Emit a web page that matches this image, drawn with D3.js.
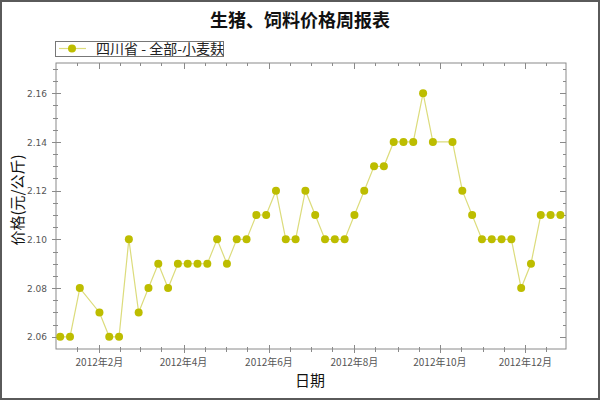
<!DOCTYPE html>
<html><head><meta charset="utf-8">
<script src="https://cdn.jsdelivr.net/npm/d3@7"></script>
<style>body{margin:0;background:#fff}svg{display:block}</style>
</head><body>
<svg id="c" width="600" height="400"></svg>
<script>
const title = "生猪、饲料价格周报表";
const seriesName = "四川省 - 全部-小麦麸";
const xTitle = "日期";
const yTitle = "价格(元/公斤)";
const dates = ["2012-01-04","2012-01-11","2012-01-18","2012-02-01","2012-02-08","2012-02-15","2012-02-22","2012-02-29",
"2012-03-07","2012-03-14","2012-03-21","2012-03-28","2012-04-04","2012-04-11","2012-04-18","2012-04-25",
"2012-05-02","2012-05-09","2012-05-16","2012-05-23","2012-05-30","2012-06-06","2012-06-13","2012-06-20","2012-06-27",
"2012-07-04","2012-07-11","2012-07-18","2012-07-25","2012-08-01","2012-08-08","2012-08-15","2012-08-22","2012-08-29",
"2012-09-05","2012-09-12","2012-09-19","2012-09-26","2012-10-10","2012-10-17","2012-10-24","2012-10-31",
"2012-11-07","2012-11-14","2012-11-21","2012-11-28","2012-12-05","2012-12-12","2012-12-19","2012-12-26"];
const values = [2.06,2.06,2.08,2.07,2.06,2.06,2.10,2.07,
2.08,2.09,2.08,2.09,2.09,2.09,2.09,2.10,
2.09,2.10,2.10,2.11,2.11,2.12,2.10,2.10,2.12,
2.11,2.10,2.10,2.10,2.11,2.12,2.13,2.13,2.14,
2.14,2.14,2.16,2.14,2.14,2.12,2.11,2.10,
2.10,2.10,2.10,2.08,2.09,2.11,2.11,2.11];
const yTicks = [2.06,2.08,2.10,2.12,2.14,2.16];
const xLabelMonths = ["2012-02-01","2012-04-01","2012-06-01","2012-08-01","2012-10-01","2012-12-01"];

const parse = d3.timeParse("%Y-%m-%d");
const data = dates.map((d,i)=>({date:parse(d), v:values[i]}));
const svg = d3.select("#c");
const L=56,R=566,T=63,B=349;
const x = d3.scaleTime().domain([new Date(2012,0,1), new Date(2012,11,30)]).range([L,R]);
const y = d3.scaleLinear().domain([2.055,2.1724]).range([B,T]);
const axisColor="#8a8a8a", labelColor="#555";
const fmtX = d=> d.getFullYear()+"年"+(d.getMonth()+1)+"月";

// border
svg.append("rect").attr("x",1).attr("y",1).attr("width",598).attr("height",398)
  .attr("fill","#fff").attr("stroke","#5a5a5a").attr("stroke-width",2);

// minor ticks: 1st and 16th of each month
const minorX = [];
d3.timeMonth.range(new Date(2012,0,1), new Date(2013,0,1)).forEach(m=>{
  minorX.push(m); minorX.push(new Date(m.getFullYear(), m.getMonth(), 16));
});
const majorX = xLabelMonths.map(parse);
const isMajor = d => majorX.some(m=>+m===+d);
const minorY = d3.range(0,24).map(i=>+(2.055+i*0.005).toFixed(3)).filter(v=>v<=2.1724);
const isMajorY = v => yTicks.some(t=>Math.abs(t-v)<1e-6);

const g = svg.append("g");
// frame
g.append("rect").attr("x",L).attr("y",T).attr("width",R-L).attr("height",B-T)
  .attr("fill","none").attr("stroke",axisColor).attr("stroke-width",1);

// bottom axis
const bottom = d3.axisBottom(x).tickValues(minorX.filter(d=>x(d)>=L&&x(d)<=R)).tickSize(0).tickFormat("");
g.append("g").attr("transform",`translate(0,${B})`).call(bottom).call(s=>s.select(".domain").remove());
minorX.filter(d=>x(d)>L+1&&x(d)<=R).forEach(d=>{
  const px=Math.round(x(d))+0.5, mj=isMajor(d);
  g.append("line").attr("x1",px).attr("x2",px).attr("y1",B-(mj?4:2)).attr("y2",B+(mj?4:3)).attr("stroke",axisColor);
  g.append("line").attr("x1",px).attr("x2",px).attr("y1",T).attr("y2",T+(mj?6:3)).attr("stroke",axisColor);
});
g.selectAll(".xl").data(majorX).enter().append("text")
  .attr("x",d=>x(d)).attr("y",366).attr("text-anchor","middle")
  .attr("font-family","'Noto Sans CJK SC', sans-serif").attr("font-size",10).attr("fill",labelColor)
  .text(fmtX);

// left/right ticks
minorY.forEach(v=>{
  const py=Math.round(y(v))+0.5, mj=isMajorY(v);
  if (py<T+1 || py>B-1) return;
  g.append("line").attr("x1",L-(mj?4:3)).attr("x2",L+(mj?5:2)).attr("y1",py).attr("y2",py).attr("stroke",axisColor);
  g.append("line").attr("x1",R-(mj?6:3)).attr("x2",R).attr("y1",py).attr("y2",py).attr("stroke",axisColor);
});
const left = d3.axisLeft(y).tickValues(yTicks).tickSize(0).tickPadding(0).tickFormat(d3.format(".2f"));
const la = g.append("g").attr("transform",`translate(47,0)`).call(left);
la.select(".domain").remove();
la.selectAll("text").attr("font-family","'DejaVu Sans', sans-serif").attr("font-size",9).attr("fill",labelColor).attr("dy","0.35em");

// line + points
const line = d3.line().x(d=>x(d.date)).y(d=>y(d.v));
g.append("path").datum(data).attr("d",line).attr("fill","none").attr("stroke","#dcdc7c").attr("stroke-width",1.2);
g.selectAll(".pt").data(data).enter().append("circle")
  .attr("cx",d=>x(d.date)).attr("cy",d=>y(d.v)).attr("r",4).attr("fill","#bdbd00");

// titles
svg.append("text").attr("x",300).attr("y",27).attr("text-anchor","middle")
  .attr("font-family","'Noto Sans CJK SC', sans-serif").attr("font-weight","bold").attr("font-size",18).attr("fill","#111").text(title);
svg.append("text").attr("x",310).attr("y",386).attr("text-anchor","middle")
  .attr("font-family","'Noto Sans CJK SC', sans-serif").attr("font-size",15).attr("fill","#111").text(xTitle);
svg.append("text").attr("transform","translate(23,200) rotate(-90)").attr("text-anchor","middle")
  .attr("font-family","'Noto Sans CJK SC', sans-serif").attr("font-size",15).attr("fill","#111").text(yTitle);

// legend
const lg = svg.append("g");
lg.append("rect").attr("x",55.5).attr("y",41.5).attr("width",168).attr("height",15).attr("fill","#fff").attr("stroke","#777");
lg.append("line").attr("x1",59).attr("x2",86).attr("y1",48.5).attr("y2",48.5).attr("stroke","#dcdc7c").attr("stroke-width",1.2);
lg.append("circle").attr("cx",72).attr("cy",48.5).attr("r",4).attr("fill","#bdbd00");
lg.append("text").attr("x",96).attr("y",54).attr("font-family","'Noto Sans CJK SC', sans-serif").attr("font-size",14).attr("fill","#222").text(seriesName);
</script>
</body></html>
